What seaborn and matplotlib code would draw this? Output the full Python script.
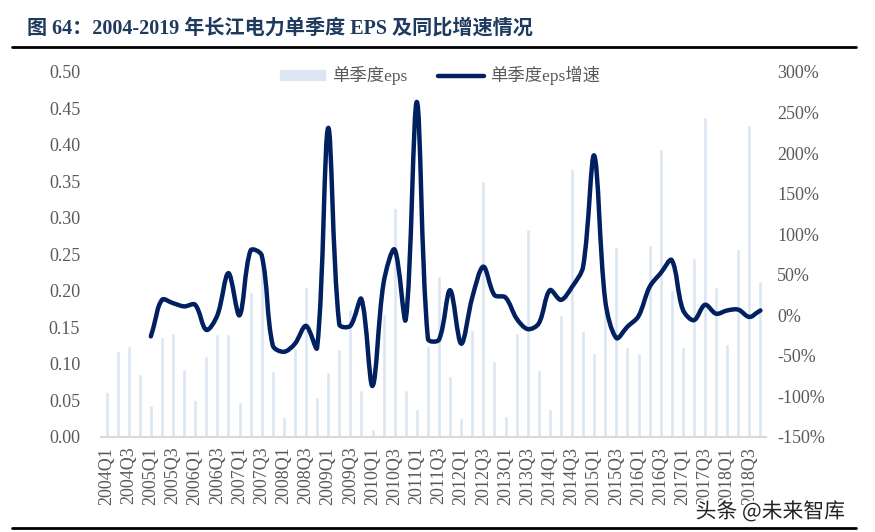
# 长江电力单季度 EPS 及同比增速（柱 + 平滑折线，双轴）

import numpy as np
import pandas as pd
import seaborn as sns
import matplotlib.pyplot as plt
from matplotlib.path import Path
from matplotlib.patches import PathPatch, Patch
from matplotlib.lines import Line2D
import matplotlib.patheffects as pe

# =========================
# 数据
# =========================
quarters = [f"{y}Q{q}" for y in range(2004, 2019) for q in range(1, 5)]

eps = [0.062, 0.118, 0.124, 0.086, 0.044, 0.137, 0.142, 0.093,
       0.050, 0.111, 0.141, 0.141, 0.048, 0.198, 0.245, 0.090,
       0.027, 0.122, 0.205, 0.055, 0.089, 0.120, 0.175, 0.064,
       0.011, 0.168, 0.314, 0.064, 0.039, 0.124, 0.221, 0.084,
       0.026, 0.147, 0.351, 0.104, 0.029, 0.142, 0.285, 0.092,
       0.038, 0.167, 0.367, 0.145, 0.115, 0.195, 0.260, 0.123,
       0.115, 0.263, 0.394, 0.202, 0.123, 0.245, 0.438, 0.205,
       0.128, 0.258, 0.427, 0.213]

# 同比增速（%），前四个季度无数据
eps_yoy = [None, None, None, None,
           -26, 19, 15, 11, 13, -18, 0, 52, 0, 80, 74, -37,
           -45, -35, -13, -40, 231, -11, -13, 20, -87, 40, 81, -5,
           263, -29, -30, 31, -35, 22, 60, 25, 22, -4, -17, -10,
           31, 19, 35, 60, 197, 18, -28, -14, -1, 35, 52, 68,
           7, -6, 13, 2, 6, 7, -2, 6]

title = "图 64：2004-2019 年长江电力单季度 EPS 及同比增速情况"
bar_label = "单季度eps"
line_label = "单季度eps增速"

bar_color = "#DCE6F2"
line_color = "#002060"
tick_color = "#595959"

# =========================
# 样式
# =========================
sns.set_theme(style="white")
plt.rcParams["font.family"] = ["Liberation Serif", "Noto Sans CJK SC"]

fig = plt.figure(figsize=(8.75, 5.32), dpi=100)
ax = fig.add_axes([0.1154, 0.1786, 0.76, 0.6861])

df = pd.DataFrame({"quarter": quarters, "eps": eps})
sns.barplot(data=df, x="quarter", y="eps", color=bar_color, saturation=1,
            width=0.36, ax=ax)
ax.set_xlim(-0.5, len(quarters) - 0.5)
ax.set_ylim(0, 0.5)
ax.set_yticks(np.arange(0, 0.501, 0.05))
ax.set_yticklabels([f"{v:.2f}" for v in np.arange(0, 0.501, 0.05)])
ax.set_xticks(range(0, len(quarters), 2))
ax.set_xticklabels(quarters[::2], rotation=90)
ax.set_xlabel("")
ax.set_ylabel("")
ax.tick_params(axis="y", length=0, pad=15, labelsize=13, labelcolor=tick_color)
ax.tick_params(axis="x", length=0, pad=7, labelsize=13, labelcolor=tick_color)
for s in ["top", "left", "right"]:
    ax.spines[s].set_visible(False)
ax.spines["bottom"].set_color("#D9D9D9")
ax.spines["bottom"].set_linewidth(1.5)
ax.grid(False)

# =========================
# 右轴：平滑折线（Excel 风格贝塞尔曲线，按像素距离算控制点）
# =========================
ax2 = ax.twinx()
ax2.set_ylim(-150, 300)
ax2.set_yticks(range(-150, 301, 50))
ax2.set_yticklabels([f"{v}%" for v in range(-150, 301, 50)])
ax2.tick_params(axis="y", length=0, pad=8, labelsize=13, labelcolor=tick_color)
for s in ax2.spines.values():
    s.set_visible(False)
ax2.grid(False)

pts = [(i, v) for i, v in enumerate(eps_yoy) if v is not None]
to_px = ax2.transData
P = to_px.transform(np.array(pts, dtype=float))
n = len(P)
t = 1 / 3
out_cp, in_cp = [], []
for i in range(n):
    a = P[max(i - 1, 0)]
    b = P[min(i + 1, n - 1)]
    d = b - a
    l_next = np.hypot(*(b - P[i]))
    l_prev = np.hypot(*(P[i] - a))
    tot = l_next + l_prev
    if tot == 0:
        out_cp.append(P[i]); in_cp.append(P[i]); continue
    k = 2 if (i == 0 or i == n - 1) else 1
    out_cp.append(P[i] + d * t * k * l_next / tot)
    in_cp.append(P[i] - d * t * k * l_prev / tot)

verts = [P[0]]
codes = [Path.MOVETO]
for i in range(n - 1):
    verts += [out_cp[i], in_cp[i + 1], P[i + 1]]
    codes += [Path.CURVE4] * 3
verts = to_px.inverted().transform(np.array(verts))
ax2.add_patch(PathPatch(Path(verts, codes), facecolor="none",
                        edgecolor=line_color, linewidth=3.2,
                        capstyle="round", joinstyle="round"))

# 图例
handles = [Patch(color=bar_color), Line2D([], [], color=line_color, lw=3.2)]
ax2.legend(handles, [bar_label, line_label], loc="center",
           bbox_to_anchor=(0.51, 0.99), ncol=2, frameon=False,
           fontsize=12.5, handlelength=2.6, handleheight=0.55,
           handletextpad=0.4, columnspacing=1.8, labelcolor=tick_color)

# =========================
# 标题与分隔线
# =========================
fig.text(0.031, 0.947, title, fontsize=14.5, fontweight="bold",
         color="#1F3A5F", va="center", ha="left")
fig.add_artist(Line2D([0.014, 0.978], [0.912, 0.912], color="black", lw=2))
fig.add_artist(Line2D([0.014, 0.978], [0.008, 0.008], color="black", lw=2))

fig.text(0.795, 0.038, "头条 @未来智库", fontsize=15, color="#222222",
         family=["Noto Sans CJK SC", "DejaVu Sans"], va="center", ha="left",
         path_effects=[pe.withStroke(linewidth=3, foreground="white")])

fig.savefig("out.png", dpi=100)
plt.close(fig)
